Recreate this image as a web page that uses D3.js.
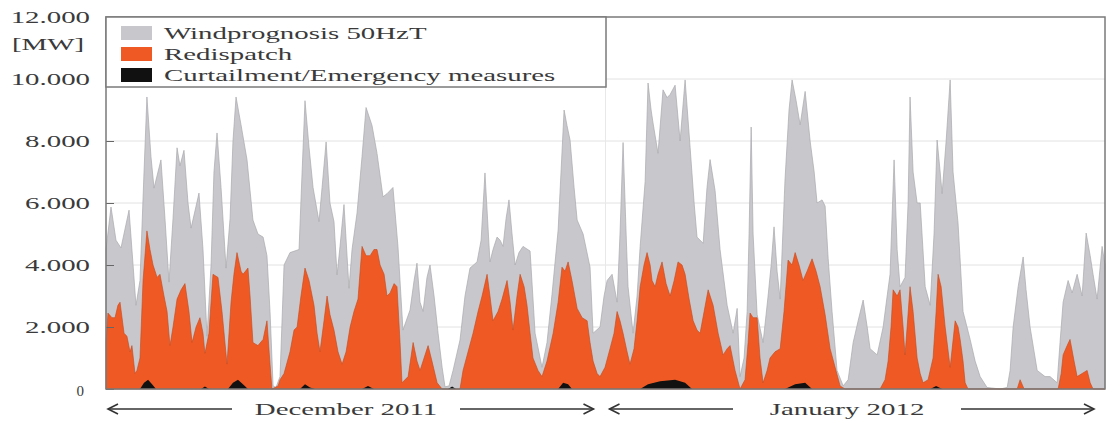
<!DOCTYPE html>
<html>
<head>
<meta charset="utf-8">
<script src="https://cdn.jsdelivr.net/npm/d3@7"></script>
<style>
  body { margin: 0; background: #fff; }
  text { font-family: "Liberation Serif", "DejaVu Serif", serif; fill: #3a3a3a; }
</style>
</head>
<body>
<svg id="chart" width="1114" height="421"></svg>
<script>
// days since 1 Dec 2011 00:00 and MW values
var windDay = [0,0.31,0.62,0.93,1.43,1.68,1.86,2.11,2.36,2.54,
  2.79,2.98,3.41,3.66,3.91,4.16,4.41,4.59,4.84,5.09,
  5.28,5.59,5.77,6.02,6.27,6.52,6.70,6.89,7.14,7.45,
  7.70,7.88,8.07,8.38,8.75,9.12,9.43,9.75,9.99,10.18,
  10.37,10.55,10.80,11.05,11.42,11.98,12.17,12.35,12.60,12.85,
  13.22,13.41,13.66,13.90,14.15,14.34,14.52,14.77,15.08,15.27,
  15.58,15.89,16.14,16.51,16.82,17.19,17.44,17.81,18.12,18.43,
  18.87,19.12,19.30,19.49,19.68,19.92,20.11,20.36,20.61,20.86,
  21.04,21.29,21.54,21.97,22.28,22.59,23.03,23.28,23.52,23.83,
  24.02,24.27,24.46,24.64,24.83,25.01,25.20,25.39,25.63,25.88,
  26.32,26.63,27.06,27.37,27.68,28.06,28.24,28.43,28.61,28.80,
  29.05,29.24,29.61,30.04,30.23,30.66,30.91,31.10,31.41,31.72,
  31.90,32.09,32.28,32.40,32.71,32.96,33.15,33.46,33.64,33.83,
  33.95,34.26,34.57,34.82,35.01,35.32,35.63,35.94,36.25,36.50,
  36.68,37.06,37.30,37.49,37.80,38.11,38.55,38.92,39.17,39.35,
  39.60,39.79,39.91,40.04,40.16,40.41,40.78,41.09,41.28,41.46,
  41.65,41.84,42.14,42.39,42.58,42.83,43.08,43.39,43.70,43.95,
  44.13,44.44,44.63,44.82,45.06,45.37,45.75,46.06,46.37,46.68,
  46.99,47.24,47.42,47.86,48.23,48.48,48.66,48.91,49.10,49.28,
  49.59,49.78,49.90,50.09,50.34,50.53,50.84,51.15,51.39,51.58,
  51.77,51.89,52.14,52.39,52.57,52.88,53.19,53.63,53.94,54.25,
  54.68,55.49,55.93,56.11,56.30,56.61,56.92,57.10,57.35,57.79,
  58.28,58.59,59.03,59.21,59.40,59.71,59.96,60.27,60.58,60.83,
  61.08,61.26,61.51,61.82,62];
var windMW = [4500,5870,4800,4550,5770,4000,2700,3500,7000,9420,
  7500,6480,7390,5500,3450,5500,7780,7200,7700,6000,
  5190,5900,6320,4500,1700,4000,7000,8260,6500,3900,
  5500,8000,9420,8520,7400,5450,5000,4900,4300,2500,
  100,50,400,4000,4400,4500,7000,9300,7800,6500,
  5400,6500,7970,6000,5400,3680,4580,5950,3250,4500,
  5680,7500,9080,8500,7600,6200,6300,6500,4600,1900,
  2550,3500,4060,2800,2500,3600,4000,3000,1800,700,
  70,100,600,1580,3000,3900,4100,4800,6970,4100,
  4500,4900,4800,4600,5500,6100,5000,4000,4400,4600,
  4450,1800,700,1500,3050,5130,7000,9000,8500,8030,
  6500,5450,5000,3930,1800,2000,3000,3500,3700,2800,
  5000,7950,5000,3300,1800,3000,4600,6700,9870,9000,
  8580,7600,9650,9400,9500,9800,8000,9970,7800,6000,
  4900,4700,6500,7400,6400,4500,2700,1800,2600,400,
  1000,2500,5000,8450,5000,2400,1500,3000,4000,5230,
  3800,2900,6740,9000,9970,9300,8520,9600,8000,7000,
  6000,6100,5900,4200,2500,600,100,300,1500,2200,
  2870,2000,1300,1100,2000,3000,3700,7390,4500,3300,
  3600,6000,9420,7000,6000,6000,3300,2700,5000,8030,
  7000,6300,8000,9970,7000,5350,2500,1600,900,400,
  50,0,50,600,2000,3300,4260,3200,2000,600,
  400,400,200,1500,2800,3500,3100,3700,3000,5030,
  4300,3700,2900,4600,4000];

var redDay = [0,0.12,0.37,0.56,0.74,0.87,1.12,1.30,1.49,1.61,1.80,1.92,2.11,2.30,2.54,2.73,2.92,3.17,3.35,3.60,
  3.79,3.97,4.16,4.41,4.66,4.90,5.15,5.34,5.59,5.83,6.02,6.14,6.39,6.64,6.95,7.20,7.51,7.76,7.94,8.13,
  8.38,8.50,8.81,8.94,9.12,9.43,9.75,9.99,10.18,10.30,10.68,10.80,11.05,11.42,11.67,11.86,12.10,12.35,12.60,12.91,
  13.10,13.28,13.53,13.72,13.90,14.15,14.40,14.65,14.90,15.15,15.39,15.64,15.89,16.14,16.39,16.63,16.82,17.01,17.26,17.44,
  17.63,17.88,18.06,18.25,18.37,18.75,19.06,19.30,19.49,19.74,19.99,20.23,20.55,20.86,21.97,22.16,22.47,22.78,23.09,23.34,
  23.65,23.83,24.02,24.33,24.58,24.89,25.08,25.26,25.51,25.70,25.95,26.13,26.32,26.50,26.81,27.06,27.37,27.75,28.06,28.30,
  28.49,28.68,28.92,29.24,29.55,29.86,30.04,30.23,30.48,30.66,30.97,31.28,31.53,31.72,31.90,32.09,32.34,32.52,32.77,32.96,
  33.15,33.39,33.58,33.77,33.89,34.08,34.26,34.51,34.76,35.01,35.26,35.50,35.75,35.94,36.19,36.44,36.68,36.87,37.12,37.37,
  37.68,37.99,38.30,38.55,38.73,39.04,39.35,39.66,39.85,39.97,40.16,40.41,40.59,40.78,41.03,41.21,41.52,41.84,42.08,42.33,
  42.58,42.77,43.01,43.26,43.51,43.82,44.07,44.32,44.63,44.94,45.25,45.56,45.87,48.04,48.35,48.54,48.72,48.85,49.10,49.28,
  49.47,49.59,49.72,49.90,50.09,50.34,50.53,50.71,51.02,51.33,51.52,51.64,51.83,52.08,52.39,52.70,52.88,53.01,53.19,53.32,
  53.50,56.55,56.73,56.98,59.09,59.28,59.40,59.65,59.83,60.08,60.27,60.58,60.89,61.08,61.26,62];
var redMW = [1500,2450,2300,2300,2700,2800,1800,1700,1200,1400,500,600,1000,3500,5100,4500,4000,3600,3700,3000,
  2500,1400,2000,2900,3200,3400,2500,1500,2000,2300,1800,1150,1800,3700,3600,2500,800,2800,3700,4400,
  3800,3700,3900,3000,1500,1400,1600,2200,800,0,100,300,500,1200,1900,2000,3000,3900,3500,2700,
  1800,1200,2200,3000,2400,1900,1200,800,1200,2000,2500,2900,4600,4300,4300,4500,4500,4000,3700,3000,
  3100,3400,3300,1500,200,400,1500,900,600,1000,1400,900,200,0,0,600,1200,1800,2500,3000,
  3700,3000,2200,2500,2900,3500,2800,1900,3000,3700,3300,2700,1800,1000,600,400,900,1800,2800,3930,
  3800,4100,3500,2600,2300,2200,1500,900,500,400,700,1300,1800,2500,2200,1800,1200,800,1300,2200,
  3300,4000,4400,4000,3500,3300,3700,4100,3400,3000,3500,4100,4000,3700,2900,2200,1900,1800,2500,3200,
  2700,1800,1100,1300,1400,600,0,300,1500,2450,2300,2300,1000,200,600,1000,1200,1300,2500,4160,
  4000,4400,4000,3500,3800,4200,3800,3300,2400,1300,700,100,0,0,300,900,2000,3200,3000,3200,
  2000,1100,2000,3300,2500,1000,500,200,300,1000,2500,3700,3300,2000,700,2200,2000,1600,900,200,
  0,0,300,0,0,500,1100,1400,1600,900,400,500,600,200,0,0];

var curtDay = [0,2.11,2.36,2.61,2.86,3.10,5.90,6.14,6.39,7.57,7.88,8.19,8.50,8.81,12.04,12.35,12.66,12.97,
  15.89,16.26,16.63,21.23,21.48,21.72,28.06,28.37,28.68,28.92,33.15,33.64,34.39,35.32,35.94,36.37,
  42.14,42.77,43.39,43.82,51.15,51.52,51.89,62];
var curtMW = [0,0,200,300,150,0,0,80,0,0,200,300,150,0,0,150,50,0,
  0,100,0,0,80,0,0,200,150,0,0,150,250,300,200,0,
  0,150,200,0,0,100,0,0];

var yTicks = [0, 2000, 4000, 6000, 8000, 10000, 12000];
var yTickLabels = ["0", "2.000", "4.000", "6.000", "8.000", "10.000", "12.000"];
var seriesNames = ["Windprognosis 50HzT", "Redispatch", "Curtailment/Emergency measures"];
var seriesColors = ["#c8c8cc", "#ef5a24", "#111111"];
var months = [{ name: "December 2011", from: 0, to: 31 }, { name: "January 2012", from: 31, to: 62 }];

var stretch = 1.75; // the picture's lettering is widened
var svg = d3.select("#chart");
var margin = { top: 17, right: 9, bottom: 32, left: 106 };
var width = +svg.attr("width") - margin.left - margin.right;
var height = +svg.attr("height") - margin.top - margin.bottom;
var g = svg.append("g").attr("transform", "translate(" + margin.left + "," + margin.top + ")");

var x = d3.scaleLinear().domain([0, 62]).range([0, width]);
var y = d3.scaleLinear().domain([0, 12000]).range([height, 0]);

function pairs(days, vals) {
  return days.map(function (d, i) { return { day: d, mw: vals[i] }; });
}

// grid
g.selectAll(".grid").data(yTicks.slice(1, -1)).enter().append("line")
  .attr("x1", 0).attr("x2", width)
  .attr("y1", function (d) { return y(d); }).attr("y2", function (d) { return y(d); })
  .attr("stroke", "#e2e2e2").attr("stroke-width", 1);
g.append("line")
  .attr("x1", x(31)).attr("x2", x(31)).attr("y1", 0).attr("y2", height)
  .attr("stroke", "#e8e8e8");

var area = d3.area()
  .x(function (d) { return x(d.day); })
  .y0(height)
  .y1(function (d) { return y(d.mw); });

g.append("path").datum(pairs(windDay, windMW))
  .attr("d", area).attr("fill", seriesColors[0])
  .attr("stroke", "#a9a9ad").attr("stroke-width", 0.7);
g.append("path").datum(pairs(redDay, redMW))
  .attr("d", area).attr("fill", seriesColors[1])
  .attr("stroke", "#c2461c").attr("stroke-width", 0.6);
g.append("path").datum(pairs(curtDay, curtMW))
  .attr("d", area).attr("fill", seriesColors[2]);

// y axis
var yAxis = g.append("g")
  .call(d3.axisLeft(y).tickValues(yTicks)
    .tickFormat(function (d, i) { return yTickLabels[i]; })
    .tickSize(-8).tickPadding(16 / stretch));
yAxis.select(".domain").remove();
yAxis.selectAll(".tick line").attr("stroke", "#666");
yAxis.selectAll(".tick text")
  .attr("font-size", "16.5px")
  .attr("font-family", "Liberation Serif")
  .attr("fill", "#3a3a3a")
  .attr("transform", "scale(" + stretch + ",1)")
  .filter(function (d) { return d === 0; })
  .attr("font-size", "15px")
  .attr("transform", null)
  .attr("x", -22).attr("dy", "0.45em");

g.append("g").attr("transform", "translate(-22,33) scale(" + stretch + ",1)")
  .append("text").attr("text-anchor", "end").attr("font-size", "16.5px").text("[MW]");

// frame
g.append("rect").attr("width", width).attr("height", height)
  .attr("fill", "none").attr("stroke", "#7a7a7a").attr("stroke-width", 1.5);

// legend
var legend = g.append("g");
legend.append("rect").attr("x", 0).attr("y", 0).attr("width", 500).attr("height", 70)
  .attr("fill", "#fff").attr("stroke", "#7a7a7a").attr("stroke-width", 1.5);
seriesNames.forEach(function (name, i) {
  var cy = 16 + i * 21;
  legend.append("rect").attr("x", 15).attr("y", cy - 7).attr("width", 31).attr("height", 14)
    .attr("fill", seriesColors[i]);
  legend.append("g").attr("transform", "translate(58," + (cy + 6) + ") scale(" + stretch + ",1)")
    .append("text").attr("font-size", "16.5px").text(name);
});

// month arrows under the axis
var ay = height + 20;
var labelCenter = [240, 741];
months.forEach(function (m, i) {
  var cx = labelCenter[i];
  var half = 92;
  var left = x(m.from) + 2, right = x(m.to) - 12;
  if (i === 1) { left = x(m.from) + 4; right = x(m.to) - 11; }
  var arr = g.append("g").attr("stroke", "#333").attr("stroke-width", 1.6).attr("fill", "none");
  arr.append("line").attr("x1", left).attr("x2", cx - half - 22).attr("y1", ay).attr("y2", ay);
  arr.append("path").attr("d", "M" + (left + 10) + "," + (ay - 5) + "L" + left + "," + ay + "L" + (left + 10) + "," + (ay + 5));
  arr.append("line").attr("x1", cx + half + 22).attr("x2", right).attr("y1", ay).attr("y2", ay);
  arr.append("path").attr("d", "M" + (right - 10) + "," + (ay - 5) + "L" + right + "," + ay + "L" + (right - 10) + "," + (ay + 5));
  g.append("g").attr("transform", "translate(" + cx + "," + (ay + 6) + ") scale(" + stretch + ",1)")
    .append("text").attr("text-anchor", "middle").attr("font-size", "16.5px").text(m.name);
});
</script>
</body>
</html>
